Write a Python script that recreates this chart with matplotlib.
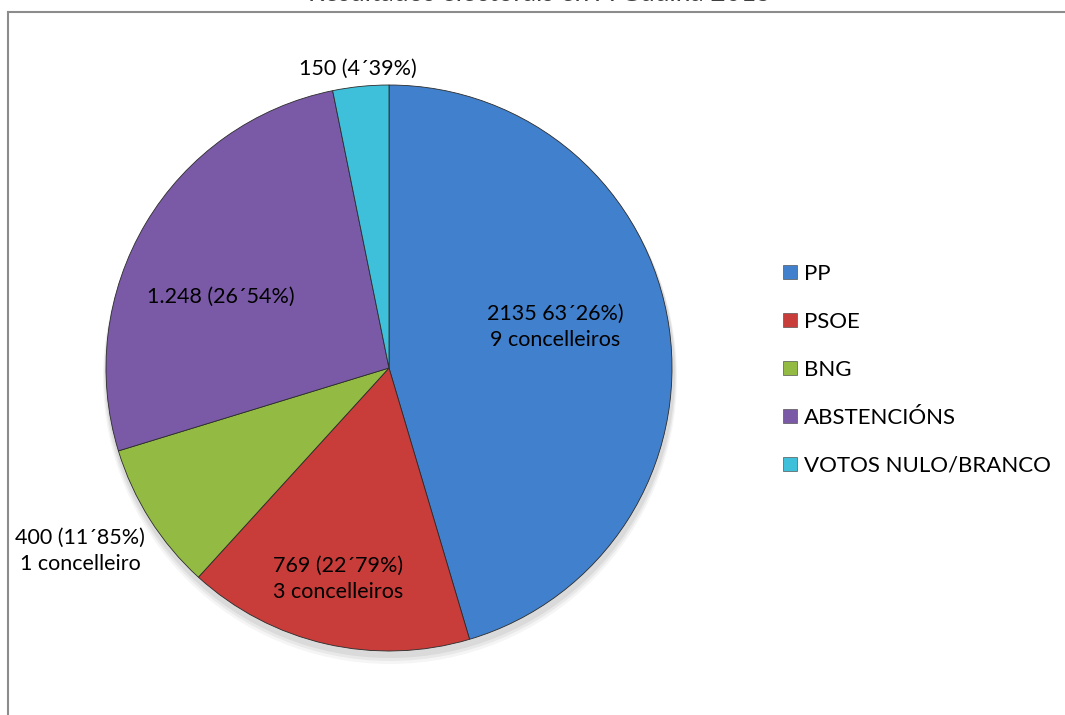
import numpy as np
import matplotlib
matplotlib.use('Agg')
import matplotlib.pyplot as plt
from matplotlib.patches import Circle

# =============================================================================
# DATA
# =============================================================================
parties = ['PP', 'PSOE', 'BNG', 'ABSTENCIÓNS', 'VOTOS NULO/BRANCO']
votes   = [2135, 769, 400, 1248, 150]
labels  = ['2135 63´26%)\n9 concelleiros',
           '769 (22´79%)\n3 concelleiros',
           '400 (11´85%)\n1 concelleiro',
           '1.248 (26´54%)',
           '150 (4´39%)']
title   = 'Resultados electorais en A Gudiña 2015'

colors = ['#4080cc', '#c83c3a', '#93bb44', '#7a5aa6', '#3ec0da']

plt.rcParams['font.family'] = ['Lato', 'DejaVu Sans']

# =============================================================================
# FIGURE (axes in pixel units, y up)
# =============================================================================
W, H = 1065, 715
fig = plt.figure(figsize=(W / 100, H / 100), dpi=100)
ax = fig.add_axes([0, 0, 1, 1])

cx, cy, R = 389, H - 368, 283

# soft shadow under the pie
for k, a in enumerate([0.06, 0.05, 0.04]):
    ax.add_patch(Circle((cx + 1, cy - 5 - 2 * k), R + 2 + k, color='black',
                        alpha=a, lw=0, zorder=0))

wedges, _ = ax.pie(votes, colors=colors, startangle=90, counterclock=False,
                   center=(cx, cy), radius=R,
                   wedgeprops=dict(edgecolor='#2b2b2b', linewidth=0.6))
for w in wedges:
    w.set_zorder(2)

ax.set_xlim(0, W)
ax.set_ylim(0, H)
ax.set_aspect('auto')
ax.axis('off')

# data labels (positions)
label_pos = [(555, 327), (338, 579), (80, 551), (221, 297), (358, 69)]
for txt, (x, y) in zip(labels, label_pos):
    ax.text(x, H - y, txt, ha='center', va='center', fontsize=15.5,
            color='black', linespacing=1.4, zorder=5)

# legend
leg = ax.legend(wedges, parties, loc='upper left',
                bbox_to_anchor=(783, H - 264), bbox_transform=ax.transData,
                frameon=False, fontsize=16, borderpad=0, borderaxespad=0,
                handlelength=0.63, handleheight=0.63, handletextpad=0.3,
                labelspacing=1.26)
for h in leg.legend_handles:
    h.set_edgecolor('#555555')
    h.set_linewidth(0.5)

# chart frame (right and bottom edges fall outside the picture)
ax.plot([8, W], [H - 12, H - 12], color='#8c8c8c', lw=1.5, zorder=1)
ax.plot([8, 8], [0, H - 12], color='#8c8c8c', lw=1.5, zorder=1)

# title, mostly cut off at the top edge
ax.text(540, H - 1.2, title, ha='center', va='baseline', fontsize=19,
        color='#404040', zorder=5)

fig.savefig('out.png', dpi=100)
